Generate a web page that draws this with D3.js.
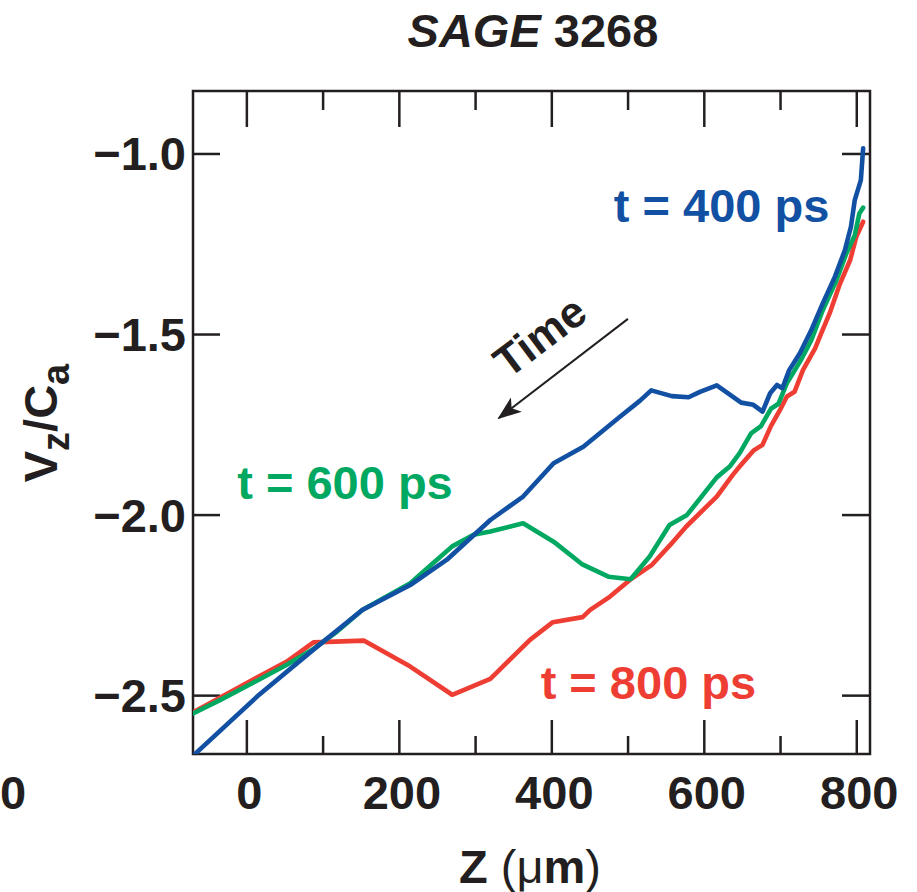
<!DOCTYPE html>
<html>
<head>
<meta charset="utf-8">
<script src="https://cdn.jsdelivr.net/npm/d3@7/dist/d3.min.js"></script>
<style>
  html, body { margin: 0; padding: 0; background: #fff; }
  svg { display: block; font-family: "Liberation Sans", Arial, Helvetica, sans-serif; }
</style>
</head>
<body>
<svg id="chart" width="917" height="892"></svg>
<script>
// Axial velocity profiles along Z at three times
const xTicksMajor = [0, 200, 400, 600, 800];
const xTicksMinor = [100, 300, 500, 700];
const yTicks = [-1.0, -1.5, -2.0, -2.5];

const seriesNames = ["t = 400 ps", "t = 600 ps", "t = 800 ps"];
const seriesColors = ["#1150a2", "#00a862", "#ee3e33"];

const z400 = [-70, 14, 88, 152, 215, 263, 320, 363, 403, 442, 490, 516, 531, 558, 580, 595, 617, 649, 665, 677, 687, 696, 703, 712, 726, 741, 756, 772, 785, 793, 798, 806, 809];
const v400 = [-2.668, -2.504, -2.374, -2.264, -2.195, -2.125, -2.015, -1.950, -1.858, -1.812, -1.729, -1.685, -1.656, -1.672, -1.675, -1.660, -1.642, -1.690, -1.696, -1.715, -1.664, -1.641, -1.650, -1.600, -1.553, -1.489, -1.415, -1.341, -1.268, -1.203, -1.129, -1.074, -0.986];

const z600 = [-70, -34, 12, 53, 88, 119, 152, 215, 250, 270, 298, 320, 363, 403, 440, 475, 504, 529, 555, 578, 617, 634, 647, 662, 675, 688, 698, 709, 728, 741, 756, 774, 787, 798, 804, 809];
const v600 = [-2.551, -2.513, -2.462, -2.416, -2.372, -2.324, -2.264, -2.190, -2.125, -2.088, -2.056, -2.047, -2.024, -2.075, -2.137, -2.172, -2.179, -2.116, -2.029, -2.001, -1.897, -1.867, -1.830, -1.775, -1.755, -1.707, -1.693, -1.636, -1.570, -1.517, -1.434, -1.351, -1.277, -1.226, -1.166, -1.150];

const z800 = [-70, 12, 53, 88, 154, 215, 270, 320, 372, 402, 441, 451, 477, 503, 532, 556, 577, 617, 638, 647, 665, 677, 688, 700, 709, 719, 730, 746, 754, 765, 778, 792, 800, 806, 809];
const v800 = [-2.548, -2.453, -2.407, -2.354, -2.349, -2.421, -2.499, -2.455, -2.347, -2.298, -2.284, -2.264, -2.227, -2.181, -2.139, -2.084, -2.033, -1.950, -1.890, -1.867, -1.823, -1.807, -1.755, -1.710, -1.673, -1.660, -1.600, -1.540, -1.498, -1.443, -1.364, -1.295, -1.231, -1.203, -1.189];

// Label anchors in data units: [z, v]
const labelPos = [[482, -1.189], [-12, -1.958], [386, -2.511]];
const timeArrow = [[500.5, -1.458], [331.3, -1.7325]];
const timeLabel = [397, -1.540];

const ink = "#231f20";
const svg = d3.select("#chart");
const m = { left: 193, right: 870, top: 91, bottom: 754 };

const x = d3.scaleLinear().domain([-70, 818]).range([m.left, m.right]);
const y = d3.scaleLinear().domain([-2.663, -0.827]).range([m.bottom, m.top]);

// Clip region for the curves
svg.append("defs").append("clipPath").attr("id", "plotClip")
  .append("rect")
  .attr("x", m.left).attr("y", m.top)
  .attr("width", m.right - m.left).attr("height", m.bottom - m.top);

// Title
const title = svg.append("text")
  .attr("x", 533).attr("y", 47)
  .attr("text-anchor", "middle")
  .attr("font-size", 47).attr("font-weight", "bold").attr("fill", ink);
title.append("tspan").attr("font-style", "italic").text("SAGE");
title.append("tspan").text(" 3268");

// Axes with inward ticks on all sides
const tickStyle = g => g.call(s => s.select(".domain").remove())
  .call(s => s.selectAll("line").attr("stroke", ink).attr("stroke-width", 2.5))
  .call(s => s.selectAll("text").remove());

svg.append("g").attr("transform", `translate(0,${m.bottom})`)
  .call(d3.axisBottom(x).tickValues(xTicksMajor).tickSize(-34)).call(tickStyle);
svg.append("g").attr("transform", `translate(0,${m.bottom})`)
  .call(d3.axisBottom(x).tickValues(xTicksMinor).tickSize(-18)).call(tickStyle);
svg.append("g").attr("transform", `translate(0,${m.top})`)
  .call(d3.axisTop(x).tickValues(xTicksMajor).tickSize(-36)).call(tickStyle);
svg.append("g").attr("transform", `translate(0,${m.top})`)
  .call(d3.axisTop(x).tickValues(xTicksMinor).tickSize(-19)).call(tickStyle);
svg.append("g").attr("transform", `translate(${m.left},0)`)
  .call(d3.axisLeft(y).tickValues(yTicks).tickSize(-27)).call(tickStyle);
svg.append("g").attr("transform", `translate(${m.right},0)`)
  .call(d3.axisRight(y).tickValues(yTicks).tickSize(-28)).call(tickStyle);

// Frame
svg.append("rect")
  .attr("x", m.left).attr("y", m.top)
  .attr("width", m.right - m.left).attr("height", m.bottom - m.top)
  .attr("fill", "none").attr("stroke", ink).attr("stroke-width", 2.5);

// Tick labels
svg.append("g").selectAll("text").data(xTicksMajor).join("text")
  .attr("x", d => x(d) + 3).attr("y", 809)
  .attr("text-anchor", "middle")
  .attr("font-size", 47).attr("font-weight", "bold").attr("fill", ink)
  .text(d => d);

svg.append("g").selectAll("text").data(yTicks).join("text")
  .attr("x", 186).attr("y", d => y(d) + 17)
  .attr("text-anchor", "end")
  .attr("font-size", 47).attr("font-weight", "bold").attr("fill", ink)
  .text(d => "\u2212" + Math.abs(d).toFixed(1));

// Edge label from the neighbouring panel
svg.append("text").attr("x", 0).attr("y", 809)
  .attr("text-anchor", "start")
  .attr("font-size", 47).attr("font-weight", "bold").attr("fill", ink)
  .text("0");

// Axis titles
const xt = svg.append("text").attr("x", 459).attr("y", 883)
  .attr("font-size", 47).attr("fill", ink);
xt.append("tspan").attr("font-weight", "bold").text("Z ");
xt.append("tspan").text("(\u03bc");
xt.append("tspan").attr("font-weight", "bold").text("m");
xt.append("tspan").text(")");

const yt = svg.append("text")
  .attr("transform", "translate(57,423) rotate(-90)")
  .attr("text-anchor", "middle")
  .attr("font-size", 47).attr("font-weight", "bold").attr("fill", ink);
yt.append("tspan").text("V");
yt.append("tspan").attr("font-size", 38).attr("dy", 12).text("z");
yt.append("tspan").attr("dy", -12).text("/C");
yt.append("tspan").attr("font-size", 38).attr("dy", 12).text("a");

// Curves
const series = [
  { z: z400, v: v400 },
  { z: z600, v: v600 },
  { z: z800, v: v800 }
];
const line = d3.line().x(d => x(d[0])).y(d => y(d[1]));

const curves = svg.append("g").attr("clip-path", "url(#plotClip)");
// Draw 400 ps last so it sits on top, then 600 ps over 800 ps
[2, 1, 0].forEach(i => {
  const pts = d3.zip(series[i].z, series[i].v);
  curves.append("path")
    .attr("d", line(pts))
    .attr("fill", "none")
    .attr("stroke", seriesColors[i])
    .attr("stroke-width", 4.6)
    .attr("stroke-linejoin", "round")
    .attr("stroke-linecap", "round");
});

// Series labels
seriesNames.forEach((name, i) => {
  svg.append("text")
    .attr("x", x(labelPos[i][0])).attr("y", y(labelPos[i][1]))
    .attr("font-size", 47).attr("font-weight", "bold")
    .attr("fill", seriesColors[i])
    .text(name);
});

// "Time" arrow
const defs = svg.select("defs");
defs.append("marker").attr("id", "arrowHead")
  .attr("viewBox", "0 0 24 18").attr("refX", 22).attr("refY", 9)
  .attr("markerWidth", 24).attr("markerHeight", 18)
  .attr("markerUnits", "userSpaceOnUse").attr("orient", "auto")
  .append("path").attr("d", "M0,0 L24,9 L0,18 L6,9 Z").attr("fill", ink);

svg.append("line")
  .attr("x1", x(timeArrow[0][0])).attr("y1", y(timeArrow[0][1]))
  .attr("x2", x(timeArrow[1][0])).attr("y2", y(timeArrow[1][1]))
  .attr("stroke", ink).attr("stroke-width", 2)
  .attr("marker-end", "url(#arrowHead)");

svg.append("text")
  .attr("transform", `translate(${x(timeLabel[0])},${y(timeLabel[1])}) rotate(-37)`)
  .attr("text-anchor", "middle")
  .attr("font-size", 44).attr("font-weight", "bold").attr("fill", ink)
  .text("Time");
</script>
</body>
</html>
